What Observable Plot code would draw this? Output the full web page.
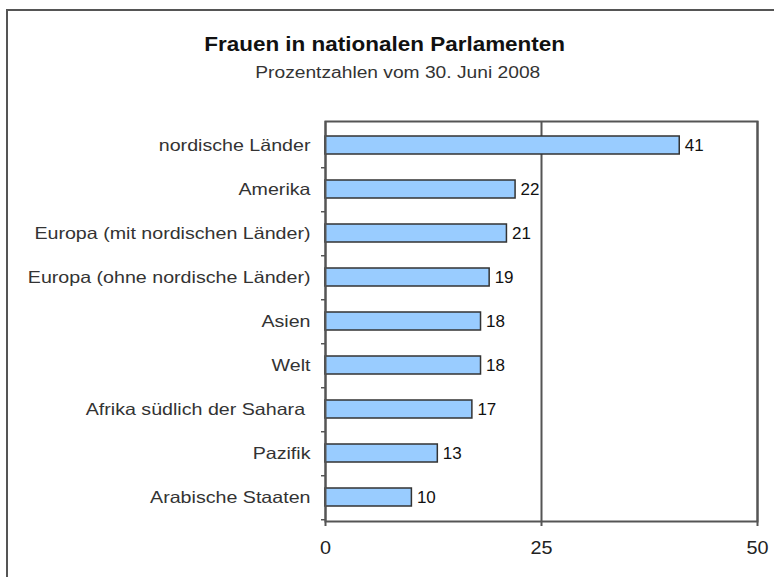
<!DOCTYPE html>
<html>
<head>
<meta charset="utf-8">
<script src="https://cdn.jsdelivr.net/npm/d3@7"></script>
<script src="https://cdn.jsdelivr.net/npm/@observablehq/plot@0.6"></script>
<style>
  html, body { margin: 0; padding: 0; background: #fff; overflow: hidden; }
  #page { position: relative; width: 774px; height: 577px; overflow: hidden;
          font-family: "Liberation Sans", Arial, sans-serif; }
  #border { position: absolute; left: 6px; top: 9px; width: 900px; height: 900px;
            border-top: 2px solid #555; border-left: 2px solid #555; }
  .hdr { position: absolute; width: 600px; text-align: center; white-space: nowrap; }
  .hdr span { display: inline-block; }
  #title { left: 85px; top: 33px; font-size: 21px; line-height: 21px; font-weight: bold; color: #111; }
  #title span { transform: scaleX(1.07); }
  #subtitle { left: 98px; top: 64.5px; font-size: 16px; line-height: 16px; color: #333; }
  #subtitle span { transform: scaleX(1.2); }
  #chart { position: absolute; left: 0; top: 0; }
  svg text { white-space: pre; }
</style>
</head>
<body>
<div id="page">
  <div id="border"></div>
  <div id="title" class="hdr"><span>Frauen in nationalen Parlamenten</span></div>
  <div id="subtitle" class="hdr"><span>Prozentzahlen vom 30. Juni 2008</span></div>
  <div id="chart"></div>
</div>
<script>
const categories = [
  "nordische Länder",
  "Amerika",
  "Europa (mit nordischen Länder)",
  "Europa (ohne nordische Länder)",
  "Asien",
  "Welt",
  "Afrika südlich der Sahara ",
  "Pazifik",
  "Arabische Staaten"
];
const values = [41, 22, 21, 19, 18, 18, 17, 13, 10];
const xTicks = [0, 25, 50];

const data = categories.map((c, i) => ({category: c, value: values[i]}));

const W = 774, H = 577, mt = 121, mb = 56, ml = 325, mr = 17;
const step = (H - mt - mb) / categories.length;

const chart = Plot.plot({
  width: W,
  height: H,
  marginTop: mt,
  marginBottom: mb,
  marginLeft: ml,
  marginRight: mr,
  style: {fontFamily: "Liberation Sans, Arial, sans-serif", background: "transparent", overflow: "visible"},
  x: {domain: [0, 50], ticks: xTicks},
  y: {domain: categories, paddingInner: 0.6, paddingOuter: 0.3},
  marks: [
    Plot.gridX(xTicks, {stroke: "#555", strokeOpacity: 1, strokeWidth: 2}),
    Plot.barX(data, {x: "value", y: "category", fill: "#99CCFF", stroke: "#333", strokeWidth: 1.5}),
    Plot.text(data, {x: "value", y: "category", text: d => String(d.value), textAnchor: "start",
                     dx: 5, fontSize: 17, fill: "#111"}),
    Plot.frame({stroke: "#555", strokeWidth: 2}),
    Plot.axisX({ticks: xTicks, tickSize: 5, tickPadding: 15, fontSize: 18, label: null,
                stroke: "#555", strokeWidth: 2, fill: "#222"}),
    Plot.axisY({tickSize: 0, tickPadding: 15, fontSize: 16.5, label: null, fill: "#333"}),
    Plot.axisY({tickSize: 4, text: null, label: null, dy: step / 2, stroke: "#555", strokeWidth: 1.5})
  ]
});

document.getElementById("chart").appendChild(chart);

function stretch(selector, k) {
  chart.querySelectorAll(selector).forEach(t => {
    const w = t.getComputedTextLength();
    t.setAttribute("textLength", (w * k).toFixed(2));
    t.setAttribute("lengthAdjust", "spacingAndGlyphs");
  });
}
stretch('g[aria-label="y-axis tick label"] text', 1.19);
stretch('g[aria-label="x-axis tick label"] text', 1.1);
</script>
</body>
</html>
